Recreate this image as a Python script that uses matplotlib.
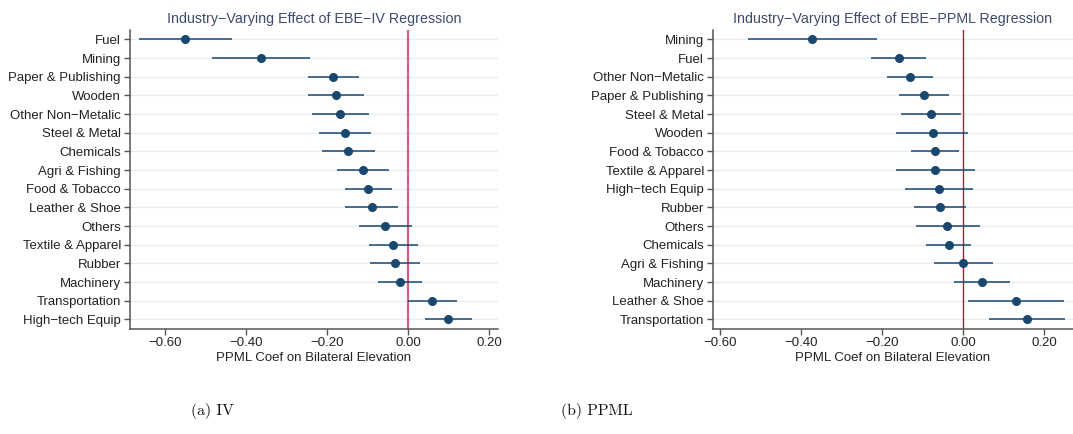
import matplotlib
matplotlib.use("Agg")
import matplotlib.pyplot as plt
from matplotlib.ticker import FixedLocator, FixedFormatter

plt.rcParams["font.family"] = ["Liberation Sans", "DejaVu Sans"]

# Panel (a): IV regression, industries ordered top to bottom
iv_industries = ["Fuel", "Mining", "Paper & Publishing", "Wooden", "Other Non\u2212Metalic",
                 "Steel & Metal", "Chemicals", "Agri & Fishing", "Food & Tobacco",
                 "Leather & Shoe", "Others", "Textile & Apparel", "Rubber", "Machinery",
                 "Transportation", "High\u2212tech Equip"]
iv_coef = [-0.551, -0.365, -0.186, -0.178, -0.169, -0.157, -0.149, -0.112, -0.100,
           -0.091, -0.057, -0.037, -0.033, -0.021, 0.059, 0.099]
iv_lo = [-0.666, -0.485, -0.247, -0.247, -0.238, -0.220, -0.214, -0.175, -0.157,
         -0.157, -0.121, -0.097, -0.094, -0.075, -0.002, 0.042]
iv_hi = [-0.436, -0.244, -0.122, -0.109, -0.098, -0.093, -0.083, -0.048, -0.040,
         -0.025, 0.008, 0.023, 0.028, 0.033, 0.119, 0.156]

# Panel (b): PPML regression
ppml_industries = ["Mining", "Fuel", "Other Non\u2212Metalic", "Paper & Publishing",
                   "Steel & Metal", "Wooden", "Food & Tobacco", "Textile & Apparel",
                   "High\u2212tech Equip", "Rubber", "Others", "Chemicals",
                   "Agri & Fishing", "Machinery", "Leather & Shoe", "Transportation"]
ppml_coef = [-0.372, -0.159, -0.132, -0.097, -0.078, -0.075, -0.068, -0.068, -0.059,
             -0.057, -0.039, -0.035, 0.000, 0.048, 0.131, 0.157]
ppml_lo = [-0.531, -0.228, -0.188, -0.159, -0.152, -0.165, -0.128, -0.165, -0.143,
           -0.121, -0.117, -0.091, -0.072, -0.023, 0.012, 0.063]
ppml_hi = [-0.212, -0.091, -0.074, -0.034, -0.006, 0.013, -0.010, 0.030, 0.024,
           0.008, 0.042, 0.019, 0.073, 0.117, 0.250, 0.251]

x_ticks = [-0.60, -0.40, -0.20, 0.00, 0.20]
x_ticklabels = ["\u22120.60", "\u22120.40", "\u22120.20", "0.00", "0.20"]

NAVY = "#1a476f"
TEXT = "#222222"
SPINE = "#555555"
GRID = "#e6eef0"

fig = plt.figure(figsize=(10.73, 4.34), dpi=100)


def draw_panel(rect, names, coef, lo, hi, xlim, title, zero_color, zero_lw, caption, cap_x):
    ax = fig.add_axes(rect)
    n = len(names)
    ypos = list(range(n))
    ax.set_xlim(*xlim)
    ax.set_ylim(n - 0.5, -0.5)
    ax.yaxis.set_major_locator(FixedLocator(ypos))
    ax.yaxis.set_major_formatter(FixedFormatter(names))
    ax.xaxis.set_major_locator(FixedLocator(x_ticks))
    ax.xaxis.set_major_formatter(FixedFormatter(x_ticklabels))
    ax.grid(axis="y", color=GRID, lw=1.0, zorder=0)
    ax.grid(axis="x", visible=False)
    ax.axvline(0, color=zero_color, lw=zero_lw, zorder=2)
    ax.hlines(ypos, lo, hi, color=NAVY, lw=1.1, zorder=3)
    ax.plot(coef, ypos, "o", color=NAVY, ms=5.5, zorder=4)
    for side in ("top", "right"):
        ax.spines[side].set_visible(False)
    for side in ("left", "bottom"):
        ax.spines[side].set_color(SPINE)
        ax.spines[side].set_linewidth(1.1)
    ax.tick_params(axis="both", colors=SPINE, labelcolor=TEXT, labelsize=9.5,
                   length=4.3, width=1.0, direction="out", pad=2)
    ax.set_xlabel("PPML Coef on Bilateral Elevation", fontsize=9.5, color=TEXT, labelpad=1.5)
    ax.set_title(title, fontsize=10.3, color="#3c4a6e", pad=5)
    fig.text(cap_x, 1 - 411 / 434, caption, family="cmr10", fontsize=11.3,
             ha="center", va="center", color="#111111")
    return ax


draw_panel([129.7 / 1073, 105.3 / 434, 368.6 / 1073, 298.7 / 434],
           iv_industries, iv_coef, iv_lo, iv_hi, (-0.688, 0.222),
           "Industry\u2212Varying Effect of EBE\u2212IV Regression",
           "#d35f80", 1.6, "(a) IV", 212.5 / 1073)

draw_panel([712.7 / 1073, 105.3 / 434, 360.3 / 1073, 298.7 / 434],
           ppml_industries, ppml_coef, ppml_lo, ppml_hi, (-0.618, 0.2716),
           "Industry\u2212Varying Effect of EBE\u2212PPML Regression",
           "#c8102e", 1.0, "(b) PPML", 597 / 1073)

fig.savefig("out.png", dpi=100)
